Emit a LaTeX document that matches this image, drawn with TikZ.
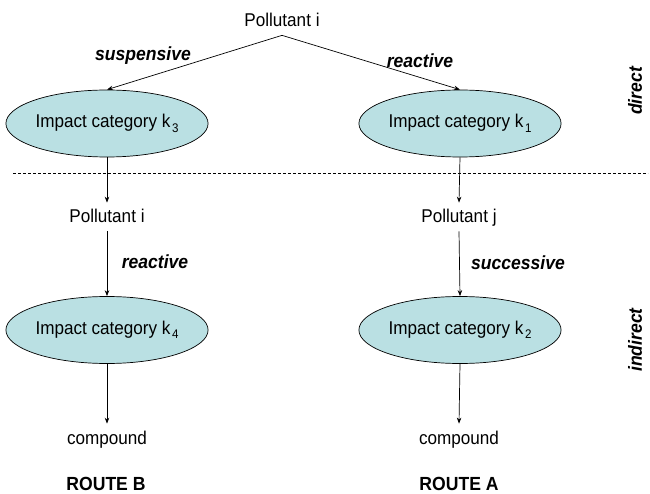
\documentclass[tikz,border=0pt]{standalone}
\usepackage{fontspec}
\setmainfont{Liberation Sans}[FakeStretch=0.925]
\usetikzlibrary{shapes.geometric, arrows.meta}

\definecolor{impactfill}{RGB}{186,224,227}

\newcommand{\impsub}[1]{\hspace{1.5pt}\raisebox{-4.5pt}{\fontsize{12.5}{13}\selectfont #1}}

\tikzset{
  impact/.style={ellipse, draw, fill=impactfill, minimum width=163pt, minimum height=67pt, inner sep=0pt},
  stage/.style={inner sep=8pt, text height=12pt, text depth=0pt},
  kind/.style={font=\fontsize{19}{22}\selectfont\bfseries\itshape},
  flow/.style={-{Stealth[length=6pt,width=4.5pt]}},
  routename/.style={font=\fontsize{19}{22}\selectfont\bfseries, inner sep=1pt},
}

\begin{document}
\begin{tikzpicture}[x=1pt, y=-1pt, line width=0.7pt, font=\fontsize{18.5}{22}\selectfont]
    \useasboundingbox (0,0) rectangle (650,494);

    % direct part
    \node[stage] (polI) at (282,21) {Pollutant i};
    \node[impact] (k3) at (107,123.5) {Impact category k\impsub{3}};
    \node[impact] (k1) at (460,123.5) {Impact category k\impsub{1}};

    \draw[flow] (polI.south) -- (k3.north);
    \draw[flow] (polI.south) -- (k1.north);
    \node[kind] (susp) at (143,56) {suspensive};
    \node[kind] (reactA) at (420,61) {reactive};

    \draw[dashed, dash pattern=on 3pt off 2pt] (13,173) -- (648,173);

    % indirect part
    \node[stage] (polB) at (107,217) {Pollutant i};
    \node[stage] (polA) at (459,217) {Pollutant j};
    \node[impact] (k4) at (107,330) {Impact category k\impsub{4}};
    \node[impact] (k2) at (460,330) {Impact category k\impsub{2}};
    \node[stage] (compB) at (107,438) {compound};
    \node[stage] (compA) at (459,438) {compound};

    \draw[flow] (k3.south) -- (polB.north);
    \draw[flow] (k1.south) -- (polA.north);
    \draw[flow] (polB.south) -- (k4.north);
    \draw[flow] (polA.south) -- (k2.north);
    \draw[flow] (k4.south) -- (compB.north);
    \draw[flow] (k2.south) -- (compA.north);
    \node[kind] (reactB) at (155,262) {reactive};
    \node[kind] (succ) at (518,263) {successive};

    % side and bottom labels
    \node[kind, rotate=90] (direct) at (635,91) {direct};
    \node[kind, rotate=90] (indirect) at (635,340) {indirect};
    \node[routename] (routeB) at (106,484) {ROUTE B};
    \node[routename] (routeA) at (459,484) {ROUTE A};
\end{tikzpicture}
\end{document}
